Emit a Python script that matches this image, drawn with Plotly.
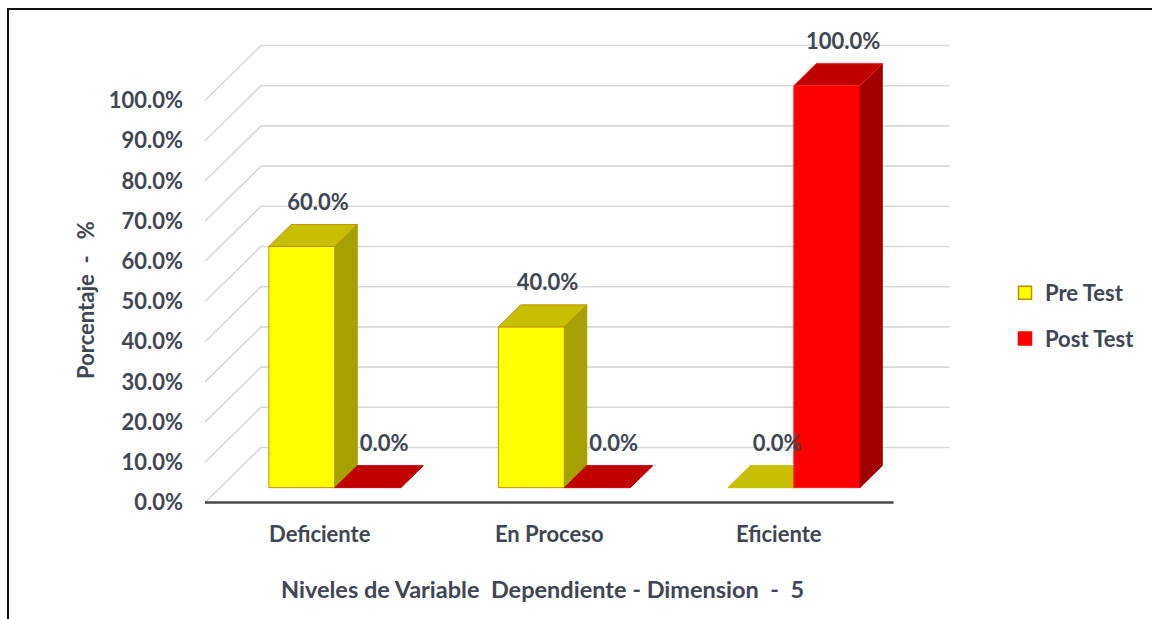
import plotly.graph_objects as go

# ---- data ----
categories = ["Deficiente", "En Proceso", "Eficiente"]
series_names = ["Pre Test", "Post Test"]
pre_test = [60.0, 40.0, 0.0]
post_test = [0.0, 0.0, 100.0]
y_ticks = [0, 10, 20, 30, 40, 50, 60, 70, 80, 90, 100]
y_tick_labels = ["0.0%", "10.0%", "20.0%", "30.0%", "40.0%", "50.0%",
                 "60.0%", "70.0%", "80.0%", "90.0%", "100.0%"]

# ---- geometry of the oblique 3-D projection ----
W, H = 1152, 619
PX0 = 205.0      # pixel column of the left end of the category axis (x = -0.5)
PXU = 229.5      # pixels per category
PY0 = 502.5      # pixel row of 0 % on the front plane
PYU = 4.02       # pixels per percent
DEPTH_DX = 56 / PXU   # x shift of the back wall, in category units
DEPTH_DY = 55 / PYU   # y shift of the back wall, in percent
BAR_W = 66 / PXU
BAR_D0, BAR_D1 = 0.27, 0.67   # depth span of the columns (0 = front, 1 = back wall)
LABEL_DX = 5 / PXU
LABEL_DY = 20 / PYU

x_range = [-0.5 - PX0 / PXU, -0.5 + (W - PX0) / PXU]
y_range = [-(H - PY0) / PYU, PY0 / PYU]

FONT = "Lato"
FSIZE = 22
TEXT = "#404652"

styles = {
    "Pre Test": dict(front="#FFFF00", top="#C8BF00", side="#A6A000", edge="#C09000"),
    "Post Test": dict(front="#FF0000", top="#C00000", side="#A00000", edge="#FF1A1A"),
}


def proj(x, d, v):
    return x + d * DEPTH_DX, v + d * DEPTH_DY


fig = go.Figure()

# gridlines on the side wall and the back wall
gx, gy = [], []
for v in y_ticks:
    for (x, d) in [(-0.5, 0), (-0.5, 1), (2.5, 1)]:
        px, py = proj(x, d, v)
        gx.append(px)
        gy.append(py)
    gx.append(None)
    gy.append(None)
fig.add_trace(go.Scatter(x=gx, y=gy, mode="lines", line=dict(color="#D9D9D9", width=1.6),
                         hoverinfo="skip", showlegend=False))


def face(points, fill, edge):
    xs, ys = zip(*[proj(*p) for p in points])
    fig.add_trace(go.Scatter(x=list(xs) + [xs[0]], y=list(ys) + [ys[0]], mode="lines",
                             fill="toself", fillcolor=fill, line=dict(color=edge, width=1),
                             hoverinfo="skip", showlegend=False))


def column(x0, x1, v, st):
    d0, d1 = BAR_D0, BAR_D1
    if v > 0:
        face([(x0, d0, 0), (x1, d0, 0), (x1, d0, v), (x0, d0, v)], st["front"], st["edge"])
        face([(x1, d0, 0), (x1, d1, 0), (x1, d1, v), (x1, d0, v)], st["side"], st["side"])
        face([(x0, d0, v), (x1, d0, v), (x1, d1, v), (x0, d1, v)], st["top"], st["edge"])
    else:
        face([(x0, d0, v), (x1, d0, v), (x1, d1, v), (x0, d1, v)], st["top"], st["top"])


label_x, label_y, label_t = [], [], []
for i, cat in enumerate(categories):
    for name, vals, (a, b) in [("Pre Test", pre_test, (-BAR_W, 0)),
                               ("Post Test", post_test, (0, BAR_W))]:
        v = vals[i]
        column(i + a, i + b, v, styles[name])
        cx, _ = proj(i + (a + b) / 2, (BAR_D0 + BAR_D1) / 2, v)
        _, ty = proj(0, BAR_D1, v)
        label_x.append(cx + LABEL_DX)
        label_y.append(ty + LABEL_DY)
        label_t.append(f"{v:.1f}%")

# category axis line on the front edge of the floor
fig.add_trace(go.Scatter(x=[-0.5, 2.5], y=[0, 0], mode="lines",
                         line=dict(color="#4A4A4A", width=2.5),
                         hoverinfo="skip", showlegend=False))

# value labels
fig.add_trace(go.Scatter(x=label_x, y=label_y, text=label_t, mode="text",
                         textposition="middle center",
                         textfont=dict(family=FONT, size=FSIZE, color=TEXT, weight="bold"),
                         hoverinfo="skip", showlegend=False, cliponaxis=False))

# legend entries
for name in series_names:
    st = styles[name]
    fig.add_trace(go.Scatter(x=[None], y=[None], mode="markers", name=name, legendgroup=name,
                             marker=dict(symbol="square", size=13, color=st["front"],
                                         line=dict(color=st["edge"] if name == "Pre Test" else st["front"],
                                                   width=1.5))))

tick_font = dict(family=FONT, size=FSIZE, color=TEXT, weight="bold")

fig.update_layout(
    width=W, height=H,
    margin=dict(l=0, r=0, t=0, b=0),
    paper_bgcolor="white", plot_bgcolor="white",
    font=tick_font,
    xaxis=dict(range=x_range, domain=[0, 1], anchor="free", position=(H - PY0) / H,
               tickvals=list(range(len(categories))), ticktext=categories,
               ticks="outside", ticklen=12, tickcolor="rgba(0,0,0,0)",
               showgrid=False, zeroline=False, showline=False, tickfont=tick_font),
    yaxis=dict(range=y_range, domain=[0, 1], anchor="free", position=183 / W,
               tickvals=y_ticks, ticktext=y_tick_labels,
               ticks="", showgrid=False, zeroline=False, showline=False, tickfont=tick_font),
    legend=dict(x=1005 / W, y=1 - 272 / H, xanchor="left", yanchor="top",
                traceorder="grouped", tracegroupgap=14, itemwidth=30,
                bgcolor="rgba(0,0,0,0)", font=tick_font),
    annotations=[
        dict(text="Porcentaje\u00a0\u00a0-\u00a0\u00a0\u00a0%", xref="paper", yref="paper",
             x=85 / W, y=1 - 300 / H, xanchor="center", yanchor="middle",
             textangle=-90, showarrow=False, font=tick_font),
        dict(text="Niveles de Variable\u00a0 Dependiente - Dimension\u00a0 -\u00a0 5",
             xref="paper", yref="paper", x=542 / W, y=1 - 589 / H,
             xanchor="center", yanchor="middle", showarrow=False,
             font=dict(family=FONT, size=23.5, color=TEXT, weight="bold")),
    ],
    shapes=[
        dict(type="rect", xref="paper", yref="paper", x0=8 / W, x1=1.05, y0=-0.05, y1=1 - 9 / H,
             line=dict(color="#111111", width=2), fillcolor="rgba(0,0,0,0)", layer="above"),
    ],
    showlegend=True,
)

fig.write_html("out.html")
